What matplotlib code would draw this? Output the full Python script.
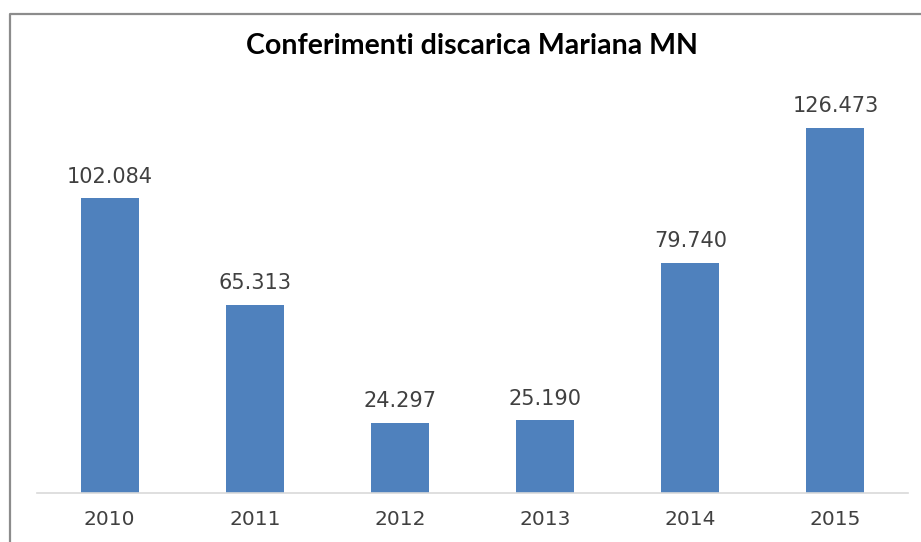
import matplotlib
matplotlib.use("Agg")
from matplotlib import pyplot as plt
from matplotlib.lines import Line2D

# dati
anni = ["2010", "2011", "2012", "2013", "2014", "2015"]
valori = [102.084, 65.313, 24.297, 25.190, 79.740, 126.473]
etichette = ["102.084", "65.313", "24.297", "25.190", "79.740", "126.473"]

fig = plt.figure(figsize=(9.21, 5.42), dpi=100)
ax = fig.add_axes([37/921, 49/542, 871/921, 404/542])

x = range(len(anni))
barre = ax.bar(x, valori, width=0.4, color="#4F81BD")

for b, t in zip(barre, etichette):
    ax.text(b.get_x() + b.get_width()/2, b.get_height() + 4.0, t,
            ha="center", va="bottom", fontsize=15, color="#404040",
            family="DejaVu Sans")

ax.set_xlim(-0.5, len(anni) - 0.5)
ax.set_ylim(0, 140)
ax.set_xticks(list(x))
ax.set_xticklabels(anni, fontsize=14.5, color="#404040", family="DejaVu Sans")
ax.tick_params(axis="x", length=0, pad=12)
ax.set_yticks([])
for s in ["top", "right", "left"]:
    ax.spines[s].set_visible(False)
ax.spines["bottom"].set_color("#D9D9D9")
ax.spines["bottom"].set_linewidth(1.2)

fig.text(472/921, 1 - 46/542, "Conferimenti discarica Mariana MN",
         ha="center", va="center", fontsize=20.5, fontweight="bold",
         family="Lato", color="#000000")

# cornice
fig.add_artist(Line2D([10/921, 10/921, 1], [0, 1 - 14/542, 1 - 14/542],
                      transform=fig.transFigure, color="#8C8C8C", lw=1.6))

fig.savefig("out.png", dpi=100)
